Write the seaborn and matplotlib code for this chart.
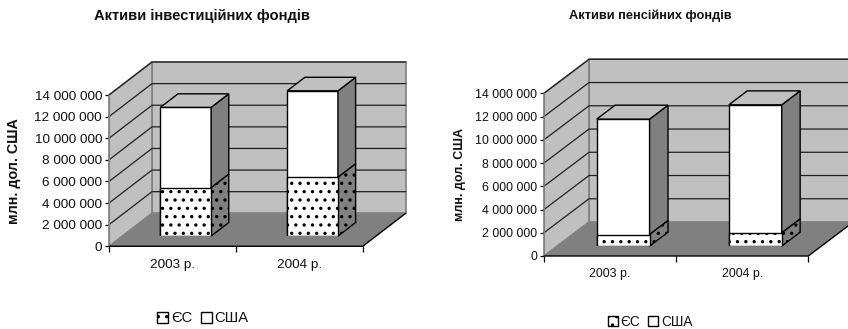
import matplotlib
matplotlib.use('Agg')
import matplotlib.pyplot as plt
from matplotlib.patches import Patch, Polygon
import pandas as pd
import seaborn as sns

years = ['2003 р.', '2004 р.']
y_ticks = [0, 2000000, 4000000, 6000000, 8000000, 10000000, 12000000, 14000000]
series_names = ['ЄС', 'США']
y_name = 'млн. дол. США'

invest_title = 'Активи інвестиційних фондів'
invest_eu = [4470000, 5430000]
invest_usa = [7440000, 8010000]

pension_title = 'Активи пенсійних фондів'
pension_eu = [1000000, 1140000]
pension_usa = [9930000, 11020000]

WIDTH, HEIGHT = 848, 329
WALL = '#c0c0c0'
DARK = '#808080'
DOTS = '..'
LW = 1.0

sns.set_style('white')
plt.rcParams['font.family'] = ['Liberation Sans', 'DejaVu Sans']
plt.rcParams['hatch.linewidth'] = 1.2

fig = plt.figure(figsize=(WIDTH / 100, HEIGHT / 100), dpi=100, facecolor='white')


def px_axes(x0, x1, ytop, ybottom):
    a = fig.add_axes([x0 / WIDTH, 1 - ybottom / HEIGHT, (x1 - x0) / WIDTH, (ybottom - ytop) / HEIGHT])
    a.set_xlim(-0.5, 1.5)
    a.set_ylim(0, 14000000)
    return a


def draw_chart(title, eu, usa, box, depth, bar_shift, fs, title_pos, title_fs, label_x, label_fs):
    x0, x1, ytop, ybottom = box
    ax = px_axes(x0, x1, ytop, ybottom)
    ax.patch.set_visible(False)
    sx = 2 / (x1 - x0)
    sy = 14000000 / (ybottom - ytop)
    dx, dy = depth[0] * sx, depth[1] * sy

    # walls and floor
    ax.add_patch(Polygon([(-0.5 + dx, dy), (1.5 + dx, dy), (1.5 + dx, 14000000 + dy), (-0.5 + dx, 14000000 + dy)],
                         fc=WALL, ec=DARK, lw=1.2, clip_on=False, zorder=1))
    ax.add_patch(Polygon([(-0.5, 0), (-0.5 + dx, dy), (-0.5 + dx, 14000000 + dy), (-0.5, 14000000)],
                         fc=WALL, ec=DARK, lw=1.2, clip_on=False, zorder=1))
    ax.add_patch(Polygon([(-0.5, 0), (1.5, 0), (1.5 + dx, dy), (-0.5 + dx, dy)],
                         fc=DARK, ec='none', clip_on=False, zorder=2))
    for v in y_ticks[1:]:
        ax.plot([-0.5, -0.5 + dx, 1.5 + dx], [v, v + dy, v + dy], color='#202020', lw=0.9,
                clip_on=False, zorder=1.5)
    ax.plot([-0.5, 1.5, 1.5 + dx], [0, 0, dy], color='black', lw=1.0, clip_on=False, zorder=3)

    # axis decoration
    sns.despine(ax=ax, top=True, right=True, bottom=True)
    ax.spines['left'].set_color(DARK)
    ax.set_yticks(y_ticks, labels=[f'{v:,}'.replace(',', ' ') for v in y_ticks])
    ax.set_xticks([-0.5, 0.5, 1.5], labels=['', '', ''])
    ax.set_xticks([0, 1], labels=years, minor=True)
    ax.tick_params(axis='y', left=True, length=3, width=0.9, color='black', pad=2, labelsize=fs, labelcolor='#111111')
    ax.tick_params(axis='x', which='major', bottom=True, length=4, width=0.9, color='black')
    ax.tick_params(axis='x', which='minor', bottom=False, length=0, pad=9, labelsize=fs, labelcolor='#111111')
    fig.text(title_pos[0] / WIDTH, 1 - title_pos[1] / HEIGHT, title, fontsize=title_fs, fontweight='bold',
             ha='center', va='center', color='#111111')
    ax.set_ylabel(y_name, fontsize=label_fs, fontweight='bold', color='#111111')
    ax.yaxis.set_label_coords((label_x - x0) / (x1 - x0), 0.5)

    # bars sit part way into the floor, so they get their own shifted axes
    bx = px_axes(x0 + depth[0] * bar_shift, x1 + depth[0] * bar_shift,
                 ytop - depth[1] * bar_shift, ybottom - depth[1] * bar_shift)
    bx.patch.set_visible(False)
    totals = [a + b for a, b in zip(eu, usa)]
    df = pd.DataFrame({'year': years, 'eu': eu, 'total': totals})
    sns.barplot(data=df, x='year', y='total', width=0.4, color='white', saturation=1,
                edgecolor='black', linewidth=LW, ax=bx, zorder=4)
    sns.barplot(data=df, x='year', y='eu', width=0.4, color='white', saturation=1,
                edgecolor='black', linewidth=LW, hatch=DOTS, ax=bx, zorder=5)
    bx.set_xlim(-0.5, 1.5)
    bx.set_ylim(0, 14000000)
    bx.axis('off')

    bdx, bdy = dx * 0.41, dy * 0.41
    for i, bar in enumerate(bx.patches[:2]):
        left = bar.get_x()
        right = left + bar.get_width()
        top = totals[i]
        low = eu[i]
        bx.add_patch(Polygon([(right, low), (right + bdx, low + bdy), (right + bdx, top + bdy), (right, top)],
                             fc=DARK, ec='black', lw=LW, zorder=4, clip_on=False))
        bx.add_patch(Polygon([(right, 0), (right + bdx, bdy), (right + bdx, low + bdy), (right, low)],
                             fc=DARK, ec='black', lw=LW, hatch=DOTS, zorder=4, clip_on=False))
        bx.add_patch(Polygon([(left, top), (left + bdx, top + bdy), (right + bdx, top + bdy), (right, top)],
                             fc=WALL, ec='black', lw=LW, zorder=4, clip_on=False))
    return ax


ax1 = draw_chart(invest_title, invest_eu, invest_usa, (109, 362.7, 95, 246.3), (43, 33), 0.31, 9.7,
                 (202, 16), 10.6, 21, 10.3)
ax2 = draw_chart(pension_title, pension_eu, pension_usa, (544, 808.3, 93.3, 256), (45, 34), 0.29, 8.9,
                 (650, 16), 9.2, 466, 9)

handles = [Patch(fc='white', ec='black', hatch=DOTS, lw=LW, label=series_names[0]),
           Patch(fc='white', ec='black', lw=LW, label=series_names[1])]
for x, y, fs in [(203, 318.5, 10.6), (650, 321.5, 9.8)]:
    fig.legend(handles=handles, ncol=2, loc='center', bbox_to_anchor=(x / WIDTH, 1 - y / HEIGHT),
               frameon=False, fontsize=fs, handlelength=0.75, handleheight=0.75, handletextpad=0.2,
               columnspacing=0.55, borderpad=0, labelcolor='#111111')

fig.savefig('out.png', dpi=100)
